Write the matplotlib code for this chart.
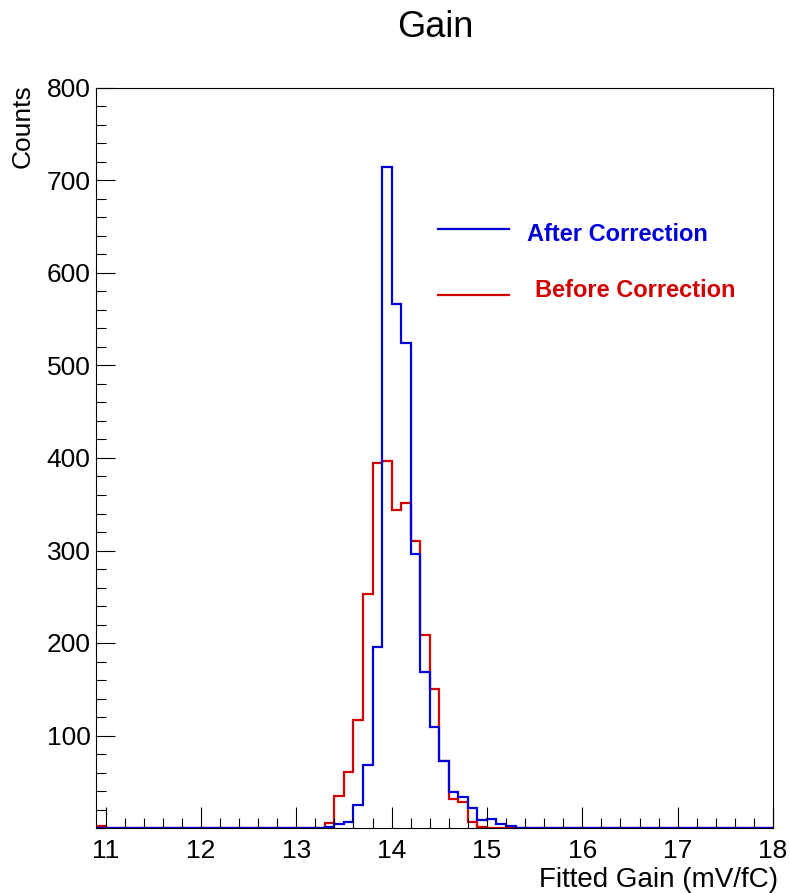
import numpy as np
import matplotlib
matplotlib.use('Agg')
import matplotlib.pyplot as plt
from matplotlib.ticker import MultipleLocator

plt.rcParams['font.family'] = ['Liberation Sans', 'DejaVu Sans']

# histogram binning: 0.1 mV/fC bins from 10.9 to 18.0
edges = np.round(np.arange(10.9, 18.0001, 0.1), 1)

# bin contents (counts), starting at the bin given by *_start
after_start = 13.3
after_counts = [1, 4, 7, 25, 68, 196, 715, 567, 524, 296,
                169, 109, 72, 39, 34, 22, 9, 10, 4, 2]

before_start = 13.3
before_counts = [5, 35, 61, 117, 253, 395, 397, 344, 351, 310,
                 209, 150, 72, 31, 28, 6, 1]
before_underflow = 2   # lone entry in the first bin (10.9 - 11.0)

def fill(start, counts):
    h = np.zeros(len(edges) - 1)
    i0 = int(round((start - edges[0]) / 0.1))
    h[i0:i0 + len(counts)] = counts
    return h

h_after = fill(after_start, after_counts)
h_before = fill(before_start, before_counts)
h_before[0] = before_underflow

blue = '#0000d8'
red = '#d20000'

fig = plt.figure(figsize=(7.9, 8.93), dpi=100)
ax = fig.add_axes([96/790, 1 - 828/893, 677/790, 740/893])

ax.stairs(h_before, edges, color=red, lw=1.6)
ax.stairs(h_after, edges, color=blue, lw=1.6)

ax.set_xlim(10.9, 18.0)
ax.set_ylim(0, 800)

ax.xaxis.set_major_locator(MultipleLocator(1))
ax.xaxis.set_minor_locator(MultipleLocator(0.2))
ax.set_yticks(np.arange(100, 801, 100))
ax.yaxis.set_minor_locator(MultipleLocator(20))

ax.tick_params(axis='x', which='major', direction='in', length=15, width=0.8,
               labelsize=19, pad=8, top=False)
ax.tick_params(axis='x', which='minor', direction='in', length=7, width=0.8, top=False)
ax.tick_params(axis='y', which='major', direction='in', length=14, width=0.8,
               labelsize=19, pad=4, right=False)
ax.tick_params(axis='y', which='minor', direction='in', length=7, width=0.8, right=False)
for s in ax.spines.values():
    s.set_linewidth(0.8)

fig.text(435/790, 1 - 37/893, 'Gain', ha='center', va='baseline', fontsize=26)
fig.text(778/790, 1 - 880/893, 'Fitted Gain (mV/fC)', ha='right', va='center', fontsize=20)
fig.text(23/790, 1 - 84/893, 'Counts', rotation=90, ha='center', va='top', fontsize=19)

# hand-placed legend entries
ax.plot([0.505, 0.610], [0.8095, 0.8095], transform=ax.transAxes, color=blue, lw=1.6)
ax.plot([0.505, 0.610], [0.7203, 0.7203], transform=ax.transAxes, color=red, lw=1.6)
ax.text(0.6366, 0.8027, 'After Correction', transform=ax.transAxes, color=blue,
        fontsize=17, fontweight='bold', va='center', ha='left')
ax.text(0.6484, 0.727, 'Before Correction', transform=ax.transAxes, color=red,
        fontsize=17, fontweight='bold', va='center', ha='left')

fig.savefig('out.png', dpi=100)
